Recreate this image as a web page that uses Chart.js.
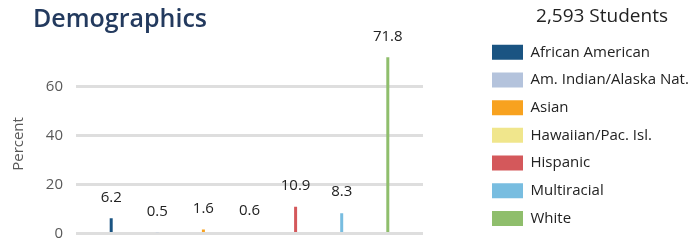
<!DOCTYPE html>
<html><head><meta charset="utf-8">
<script src="https://cdn.jsdelivr.net/npm/chart.js@4/dist/chart.umd.min.js"></script>
<style>
html,body{margin:0;padding:0;background:#fff;}
#wrap{position:relative;width:694px;height:242px;overflow:hidden;}
#c{position:absolute;left:0;top:0;}
#title{position:absolute;left:33px;top:-1px;font-family:"Open Sans",sans-serif;font-weight:600;font-size:25px;color:#233a5e;line-height:36px;z-index:2;white-space:nowrap;}
</style></head><body>
<div id="wrap"><canvas id="c" width="694" height="242"></canvas><div id="title"></div></div>
<script>
const chartTitle = 'Demographics';
const legendTitle = '2,593 Students';
const axisTitle = 'Percent';
const categories = ['African American','Am. Indian/Alaska Nat.','Asian','Hawaiian/Pac. Isl.','Hispanic','Multiracial','White'];
const percents = [6.2, 0.5, 1.6, 0.6, 10.9, 8.3, 71.8];
const yTicks = [0, 20, 40, 60];
const palette = ['#1a5482','#b4c3dc','#f8a21f','#f0e68c','#d4585b','#78bde0','#8fbe6c'];

document.getElementById('title').textContent = chartTitle;
const FONT = '"Open Sans", sans-serif';

const valueLabels = {
  id: 'valueLabels',
  afterDatasetsDraw(chart) {
    const ctx = chart.ctx;
    ctx.save();
    ctx.font = '15px ' + FONT;
    ctx.fillStyle = '#222';
    ctx.textAlign = 'center';
    ctx.textBaseline = 'middle';
    chart.data.datasets.forEach((ds, i) => {
      chart.getDatasetMeta(i).data.forEach((bar, j) => {
        ctx.fillText(ds.data[j].toFixed(1), bar.x, bar.y - 21);
      });
    });
    ctx.restore();
  }
};

const legendTweak = {
  id: 'legendTweak',
  beforeLayout(chart) {
    const lg = chart.legend;
    if (!lg || lg._tweaked) return;
    lg._tweaked = true;
    const of = lg.fit;
    lg.fit = function () { of.call(this); this.width = 214.7; };
  },
  afterDraw(chart) {
    const ctx = chart.ctx;
    ctx.save();
    ctx.font = '19px ' + FONT;
    ctx.fillStyle = '#222';
    ctx.textAlign = 'center';
    ctx.textBaseline = 'middle';
    ctx.fillText(legendTitle, 602, 17);
    ctx.restore();
  }
};

new Chart(document.getElementById('c'), {
  type: 'bar',
  data: {
    labels: [''],
    datasets: categories.map((c, i) => ({
      label: c, data: [percents[i]], backgroundColor: palette[i], borderWidth: 0
    }))
  },
  options: {
    responsive: false,
    animation: false,
    layout: { padding: { left: 6, top: 0, right: 0, bottom: 0 } },
    datasets: { bar: { categoryPercentage: 0.93, barPercentage: 1, maxBarThickness: 3 } },
    scales: {
      x: { display: false },
      topGap: {
        type: 'linear', axis: 'x', position: 'top', display: true,
        grid: { display: false }, ticks: { display: false }, border: { display: false },
        afterFit: s => { s.height = 54.4; }
      },
      y: {
        min: 0, max: 73,
        afterBuildTicks: s => { s.ticks = yTicks.map(v => ({ value: v })); },
        ticks: { padding: 1, color: '#595959', font: { family: FONT, size: 15, lineHeight: 1 } },
        grid: { color: '#dedede', lineWidth: 3, drawTicks: true, tickLength: 12, tickColor: 'rgba(0,0,0,0)' },
        border: { display: false },
        title: { display: true, text: axisTitle, color: '#595959', font: { family: FONT, size: 15 }, padding: { top: 4, bottom: 4 } },
        afterFit: s => { s.width = 70; }
      },
      gap: {
        type: 'linear', axis: 'y', position: 'right', display: true,
        grid: { display: false }, ticks: { display: false }, border: { display: false },
        afterFit: s => { s.width = 56.3; }
      }
    },
    plugins: {
      legend: {
        position: 'right', align: 'start',
        title: { display: true, text: legendTitle, color: 'rgba(0,0,0,0)', font: { family: FONT, size: 18, lineHeight: 1.28 }, padding: { top: 8, bottom: 1 } },
        labels: { boxWidth: 31, boxHeight: 15, padding: 12.7, color: '#222', font: { family: FONT, size: 15 } }
      },
      tooltip: { enabled: false }
    }
  },
  plugins: [valueLabels, legendTweak]
});
</script>
</body></html>
